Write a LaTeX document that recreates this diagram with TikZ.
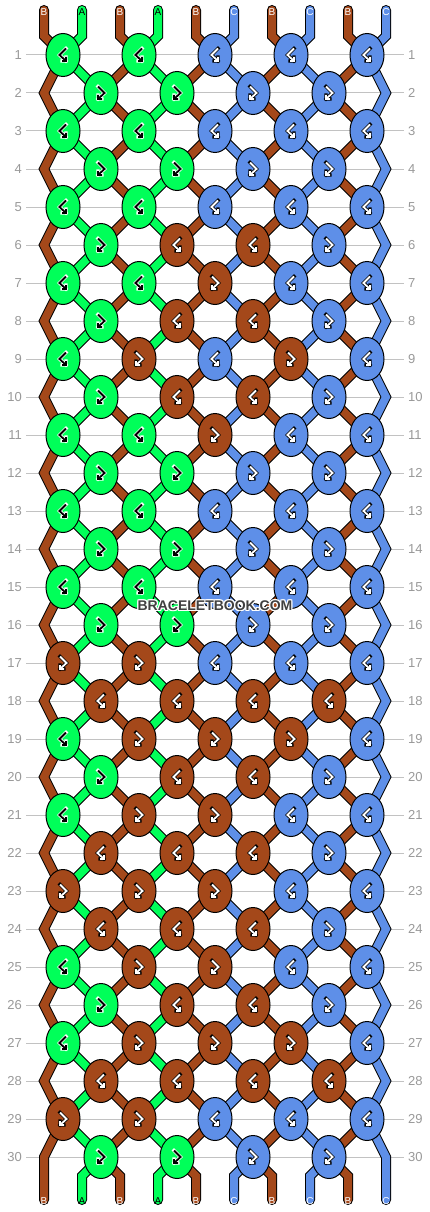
\documentclass[tikz,border=0pt]{standalone}
\usepackage{fontspec}
\setmainfont{Liberation Sans}
\usetikzlibrary{shapes.geometric,backgrounds}
\definecolor{cG}{HTML}{00FF59}
\definecolor{cB}{HTML}{A4481A}
\definecolor{cC}{HTML}{5E8FE8}
\definecolor{rowline}{HTML}{C2C2C2}
\definecolor{rowtxt}{HTML}{999999}
\definecolor{wmgray}{HTML}{404040}
\tikzset{
  knot/.style={ellipse, draw=black, line width=1pt, minimum width=34pt, minimum height=43pt, inner sep=0pt},
  rowln/.style={draw=rowline, line width=1pt},
  rownum/.style={text=rowtxt, font=\fontsize{13}{13}\selectfont, inner sep=0pt},
  strandout/.style={line width=10pt, draw=black, line join=miter, line cap=round},
  strandin/.style={line width=8pt, line join=miter, line cap=round},
  endlabel/.style={font=\fontsize{10}{10}\selectfont, inner sep=0pt},
  wmtext/.style={font=\fontsize{14}{14}\selectfont\bfseries, inner sep=0pt},
  pics/glyph/.style n args={3}{code={
    \draw[color=#3, line width=3.4pt, line cap=rect, line join=miter, xscale=#1]
      (-3,-6.5) -- (3.5,0) -- (-3,6) (-3,2) -- (-3,6) -- (1,6);
    \draw[color=#2, line width=1.8pt, line cap=butt, line join=miter, xscale=#1]
      (-3,-6.5) -- (3.5,0) -- (-3,6) (-3,2) -- (-3,6) -- (1,6);
  }}
}
\begin{document}
\begin{tikzpicture}[x=1pt,y=-1pt]
\useasboundingbox (0,0) rectangle (430,1212);
% knots
\foreach \r/\row in {
1/{0,0,0,0,0},2/{0,0,0,0},3/{0,0,0,0,0},4/{0,0,0,0},5/{0,0,0,0,0},
6/{0,1,1,0},7/{0,0,1,0,0},8/{0,1,1,0},9/{0,1,0,1,0},10/{0,1,1,0},
11/{0,0,1,0,0},12/{0,0,0,0},13/{0,0,0,0,0},14/{0,0,0,0},15/{0,0,0,0,0},
16/{0,0,0,0},17/{1,1,0,0,0},18/{1,1,1,1},19/{0,1,1,1,0},20/{0,1,1,0},
21/{0,1,1,0,0},22/{1,1,1,0},23/{1,1,1,0,0},24/{1,1,1,0},25/{0,1,1,0,0},
26/{0,1,1,0},27/{0,1,1,1,0},28/{1,1,1,1},29/{1,1,0,0,0},30/{0,0,0,0}}{
  \pgfmathsetmacro\yy{55+38*(\r-1)}
  \ifodd\r\relax \def\xs{63}\else \def\xs{101}\fi
  \node[rownum, anchor=east] (rl\r) at (22,\yy) {\r};
  \node[rownum, anchor=west] (rr\r) at (408,\yy) {\r};
  \ifodd\r\relax\else
    \coordinate (S1-\r) at (44,\yy);
    \coordinate (S10-\r) at (386,\yy);
  \fi
  \foreach \b [count=\j] in \row {
    \pgfmathsetmacro\xx{\xs+76*(\j-1)}
    \ifnum\b=1 \def\kc{cB}\else \ifnum\j<3 \def\kc{cG}\else \def\kc{cC}\fi\fi
    \ifnum\b=0 \ifnum\j<3 \def\gm{black}\def\go{white}\else\def\gm{white}\def\go{black}\fi
    \else \def\gm{white}\def\go{black}\fi
    \pgfmathtruncatemacro\gt{mod(\r+\b,2)}
    \ifnum\gt=1 \def\gs{-1}\else \def\gs{1}\fi
    \node[knot, fill=\kc] (k\r-\j) at (\xx,\yy) {};
    \pic at (k\r-\j.center) {glyph={\gs}{\gm}{\go}};
    \ifodd\r\relax
      \pgfmathtruncatemacro\sa{2*\j-1}\pgfmathtruncatemacro\sb{2*\j}
    \else
      \pgfmathtruncatemacro\sa{2*\j}\pgfmathtruncatemacro\sb{2*\j+1}
    \fi
    \coordinate (S\sa-\r) at (k\r-\j.center);
    \coordinate (S\sb-\r) at (k\r-\j.center);
  }
}
% string ends
\foreach \i/\l/\tc in {1/B/white,2/A/black,3/B/white,4/A/black,5/B/white,6/C/white,7/B/white,8/C/white,9/B/white,10/C/white}{
  \pgfmathsetmacro\xt{44+38*(\i-1)}
  \coordinate (T\i) at (\xt,10);
  \coordinate (U\i) at (\xt,36);
  \coordinate (V\i) at (\xt,1176);
  \coordinate (W\i) at (\xt,1200);
  \node[endlabel, text=\tc] (lt\i) at (\xt,12) {\l};
  \node[endlabel, text=\tc] (lb\i) at (\xt,1201) {\l};
}
\begin{pgfonlayer}{background}
  \fill[white] (0,0) rectangle (430,1212);
  \foreach \r in {1,...,30}{
    \draw[rowln] ([xshift=4pt]rl\r.east) -- ([xshift=-4pt]rr\r.west);
  }
  \foreach \i in {1,...,10}{
    \draw[strandout] (T\i) -- (U\i) \foreach \r in {1,...,30}{ -- (S\i-\r)} -- (V\i) -- (W\i);
  }
  \foreach \i/\c in {1/cB,2/cG,3/cB,4/cG,5/cB,6/cC,7/cB,8/cC,9/cB,10/cC}{
    \draw[strandin, draw=\c] (T\i) -- (U\i) \foreach \r in {1,...,30}{ -- (S\i-\r)} -- (V\i) -- (W\i);
  }
\end{pgfonlayer}
% watermark
\foreach \dx/\dy [count=\n] in {-1/0,1/0,0/-1,0/1,-1/-1,1/1,-1/1,1/-1}{
  \node[wmtext, text=white] (wmh\n) at ({215+\dx},{605.5+\dy}) {BRACELETBOOK.COM};
}
\node[wmtext, text=wmgray] (wm) at (215,605.5) {BRACELETBOOK.COM};
\end{tikzpicture}
\end{document}
